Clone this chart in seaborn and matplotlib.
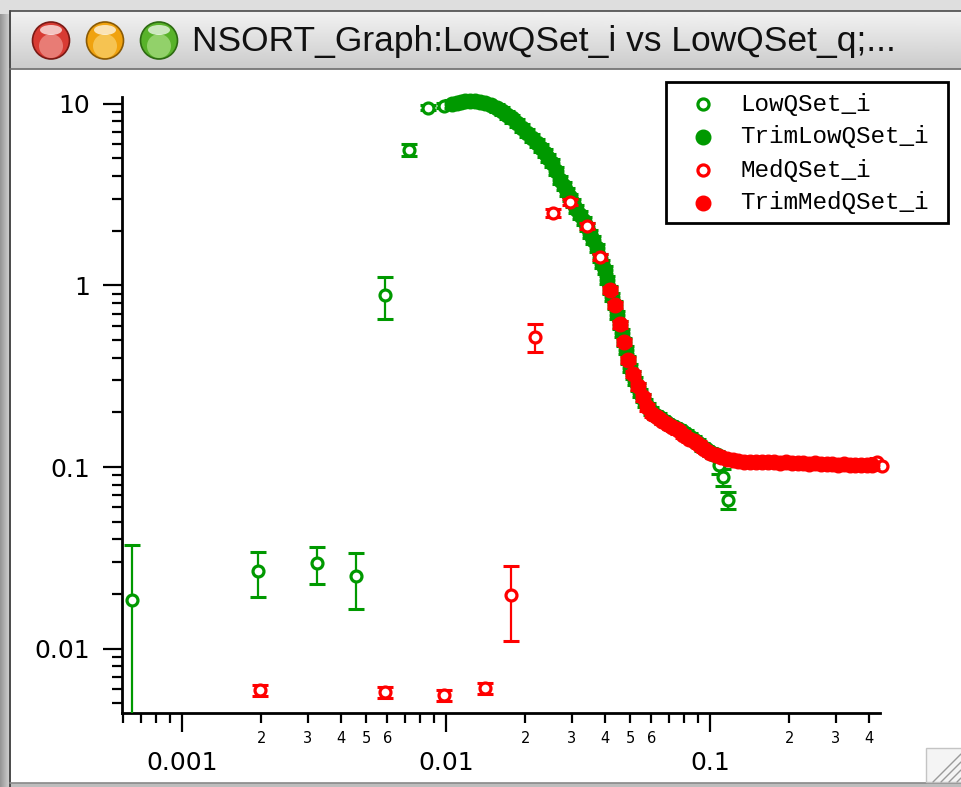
import numpy as np
import pandas as pd
import matplotlib
matplotlib.use("Agg")
import matplotlib.pyplot as plt
import seaborn as sns
from matplotlib.patches import Rectangle, Circle, Ellipse
from matplotlib.ticker import LogLocator, FuncFormatter, NullFormatter

# ---------------- data ----------------
title_text = "NSORT_Graph:LowQSet_i vs LowQSet_q;..."
series_names = ["LowQSet_i", "TrimLowQSet_i", "MedQSet_i", "TrimMedQSet_i"]

low_q = [0.000647, 0.00194, 0.00324, 0.00456, 0.00587, 0.00724, 0.00855, 0.0098,
         0.108, 0.112, 0.117]
low_i = [0.0185, 0.0267, 0.0296, 0.0251, 0.887, 5.58, 9.5, 9.75,
         0.103, 0.088, 0.066]
low_err = [0.0187, 0.0075, 0.0068, 0.0086, 0.23, 0.4, 0.3, 0.3,
           0.012, 0.009, 0.007]

trim_low_q = [0.0105, 0.0110, 0.0114, 0.0118, 0.0123, 0.0129, 0.0135, 0.0141,
              0.0148, 0.0156, 0.0163, 0.0170, 0.0178, 0.0186, 0.0194, 0.0203,
              0.0212, 0.0221, 0.0229, 0.0237, 0.0244, 0.0252, 0.0261, 0.0271,
              0.0279, 0.0287, 0.0295, 0.0303, 0.0312, 0.0322, 0.0332, 0.0342,
              0.0351, 0.0361, 0.0372, 0.0383, 0.0391, 0.0400, 0.0409, 0.0418,
              0.0427, 0.0437, 0.0446, 0.0456, 0.0464, 0.0472, 0.0480, 0.0488,
              0.0499, 0.0511, 0.0522, 0.0533, 0.0545, 0.0557, 0.0569, 0.0582,
              0.0600, 0.0620, 0.0639, 0.0658, 0.0681, 0.0705, 0.0730, 0.0757,
              0.0783, 0.0811, 0.0840, 0.0869, 0.0900, 0.0933, 0.0966, 0.100,
              0.103, 0.106]
trim_low_i = [10.0, 10.1, 10.2, 10.3, 10.3, 10.3, 10.2, 10.1,
              9.8, 9.5, 9.1, 8.7, 8.3, 7.86, 7.4, 6.92,
              6.5, 6.10, 5.7, 5.37, 5.05, 4.73, 4.25, 3.81,
              3.52, 3.27, 3.05, 2.85, 2.64, 2.44, 2.26, 2.10,
              1.93, 1.78, 1.60, 1.42, 1.32, 1.22, 1.07, 0.944,
              0.86, 0.781, 0.69, 0.606, 0.545, 0.489, 0.44, 0.389,
              0.352, 0.321, 0.297, 0.276, 0.257, 0.240, 0.226, 0.214,
              0.203, 0.194, 0.188, 0.182, 0.176, 0.170, 0.166, 0.162,
              0.157, 0.152, 0.146, 0.141, 0.135, 0.129, 0.125, 0.121,
              0.118, 0.116]

med_q = [0.00197, 0.00587, 0.00983, 0.0141, 0.0176, 0.0217, 0.0254, 0.0295,
         0.0342, 0.0383, 0.43, 0.449]
med_i = [0.0059, 0.00575, 0.00555, 0.00605, 0.0197, 0.52, 2.51, 2.88,
         2.13, 1.43, 0.107, 0.101]
med_err = [0.0004, 0.0004, 0.0004, 0.0004, 0.0087, 0.09, 0.12, 0.10,
           0.08, 0.05, 0.005, 0.005]

trim_med_q = [0.0418, 0.0437, 0.0456, 0.0472, 0.0488, 0.0510, 0.0533, 0.0557,
              0.058, 0.0605, 0.063, 0.066, 0.069, 0.072, 0.0755, 0.079,
              0.083, 0.087, 0.091, 0.095, 0.100, 0.105, 0.110, 0.116,
              0.122, 0.128, 0.135, 0.142, 0.150, 0.158, 0.166, 0.175,
              0.184, 0.194, 0.204, 0.215, 0.226, 0.238, 0.250, 0.263,
              0.277, 0.291, 0.306, 0.322, 0.338, 0.355, 0.373, 0.392, 0.410]
trim_med_i = [0.944, 0.78, 0.61, 0.49, 0.39, 0.325, 0.278, 0.242,
              0.213, 0.196, 0.188, 0.180, 0.173, 0.167, 0.159, 0.151,
              0.143, 0.139, 0.133, 0.126, 0.120, 0.116, 0.113, 0.111,
              0.109, 0.108, 0.107, 0.107, 0.106, 0.107, 0.106, 0.106,
              0.105, 0.106, 0.105, 0.105, 0.105, 0.104, 0.105, 0.104,
              0.104, 0.104, 0.103, 0.104, 0.103, 0.103, 0.102, 0.103, 0.102]

x_major_ticks = [0.001, 0.01, 0.1]
x_major_labels = ["0.001", "0.01", "0.1"]
y_major_ticks = [0.01, 0.1, 1, 10]
y_major_labels = ["0.01", "0.1", "1", "10"]
minor_labelled = [2, 3, 4, 5, 6]
minor_label_from = 0.001

GREEN = "#009900"
RED = "#ff0000"

# ---------------- figure ----------------
sns.set_theme(style="white")
plt.rcParams["font.family"] = ["DejaVu Sans"]

W, H = 961, 787
fig = plt.figure(figsize=(W / 100, H / 100), dpi=100)
fig.patch.set_facecolor("white")

# window chrome (pixel coordinates)
bg = fig.add_axes([0, 0, 1, 1], zorder=0)
bg.set_xlim(0, W)
bg.set_ylim(H, 0)
bg.axis("off")

bg.add_patch(Rectangle((0, 0), W, H, color="#dedede", zorder=0))
lg = np.linspace(0.58, 0.80, 32).reshape(1, -1)
bg.imshow(lg, extent=(0, 9, H, 14), cmap="gray", vmin=0, vmax=1, aspect="auto", zorder=1)
tg = np.linspace(0.95, 0.80, 64).reshape(-1, 1)
bg.imshow(tg, extent=(10, W, 68, 11), cmap="gray", vmin=0, vmax=1, aspect="auto", zorder=1)
bg.plot([10, W], [11, 11], color="#4a4a4a", lw=1.2, zorder=3)
bg.plot([9.5, 9.5], [11, H], color="#4a4a4a", lw=1.4, zorder=3)
bg.plot([10, W], [68.5, 68.5], color="#6a6a6a", lw=1.2, zorder=3)
bg.add_patch(Rectangle((10.2, 69.2), W - 10, 713, color="white", zorder=2))
bg.add_patch(Rectangle((10, 782.5), W, 6, color="#bdbdbd", zorder=2))
bg.plot([10, W], [782.5, 782.5], color="#8a8a8a", lw=1.2, zorder=3)
bg.add_patch(Rectangle((926, 748), 40, 34, facecolor="#f4f4f4", edgecolor="#c4c4c4", lw=1, zorder=3))
for k in range(4):
    off = 8 * k
    bg.plot([933 + off, 961], [782, 754 + off], color="#9a9a9a", lw=1.0, zorder=4)
for cx, base, dark, light in [(51, "#d83b33", "#7a1a15", "#f6b3ad"),
                              (105, "#f0a20e", "#8a5a05", "#fbe08a"),
                              (159, "#58b22a", "#2d6a12", "#c2ec9f")]:
    bg.add_patch(Circle((cx, 40.5), 18.5, facecolor=base, edgecolor=dark, lw=1.2, zorder=4))
    bg.add_patch(Circle((cx, 46), 12, facecolor=light, edgecolor="none", alpha=0.55, zorder=5))
    bg.add_patch(Ellipse((cx, 30), 22, 10, facecolor="white", edgecolor="none", alpha=0.7, zorder=6))
title = bg.text(192, 42, title_text, ha="left", va="center", fontsize=24,
                family=["Liberation Sans", "DejaVu Sans"], color="#111111", zorder=6)

# ---------------- main axes ----------------
L, R, T, B = 122, 880, 97, 713
ax = fig.add_axes([L / W, 1 - B / H, (R - L) / W, (B - T) / H], zorder=1)
ax.set_facecolor("none")
ax.set_xscale("log")
ax.set_yscale("log")

df_low = pd.DataFrame({"q": low_q, "I": low_i, "err": low_err})
df_tlow = pd.DataFrame({"q": trim_low_q, "I": trim_low_i})
df_tlow["err"] = df_tlow["I"] * 0.05
df_med = pd.DataFrame({"q": med_q, "I": med_i, "err": med_err})
df_tmed = pd.DataFrame({"q": trim_med_q, "I": trim_med_i})
df_tmed["err"] = df_tmed["I"] * 0.04

eb_kw = dict(fmt="none", elinewidth=1.6, capsize=5.5, capthick=2.2)

def draw(df, color, filled, z):
    ax.errorbar(df["q"], df["I"], yerr=df["err"], ecolor=color, zorder=z, **eb_kw)
    sns.scatterplot(data=df, x="q", y="I", ax=ax, marker="o",
                    s=110 if filled else 62,
                    facecolor=color if filled else "white",
                    edgecolor=color, linewidth=2.3 if not filled else 1.0,
                    zorder=z + 0.5, legend=False, clip_on=False)

draw(df_low, GREEN, False, 3)
draw(df_tlow, GREEN, True, 4)
draw(df_med, RED, False, 5)
draw(df_tmed, RED, True, 6)

ax.set_xlim(0.000593, 0.4406)
ax.set_ylim(0.00442, 10.9)
ax.set_xlabel("")
ax.set_ylabel("")

for s in ["top", "right"]:
    ax.spines[s].set_visible(False)
for s in ["left", "bottom"]:
    ax.spines[s].set_color("black")
    ax.spines[s].set_linewidth(2)

ax.xaxis.set_major_locator(LogLocator(base=10, subs=(1.0,)))
ax.xaxis.set_minor_locator(LogLocator(base=10, subs=(2, 3, 4, 5, 6, 7, 8, 9)))
ax.yaxis.set_major_locator(LogLocator(base=10, subs=(1.0,)))
ax.yaxis.set_minor_locator(LogLocator(base=10, subs=(2, 3, 4, 5, 6, 7, 8, 9)))

xmap = dict(zip(x_major_ticks, x_major_labels))
ymap = dict(zip(y_major_ticks, y_major_labels))

def fmt_major(mapping):
    def f(v, pos):
        for k, lab in mapping.items():
            if abs(np.log10(v) - np.log10(k)) < 1e-6:
                return lab
        return ""
    return FuncFormatter(f)

def fmt_minor(v, pos):
    if v < minor_label_from:
        return ""
    m = v / 10 ** np.floor(np.log10(v) + 1e-9)
    mi = int(round(m))
    return str(mi) if mi in minor_labelled and abs(m - mi) < 1e-6 else ""

ax.xaxis.set_major_formatter(fmt_major(xmap))
ax.xaxis.set_minor_formatter(FuncFormatter(fmt_minor))
ax.yaxis.set_major_formatter(fmt_major(ymap))
ax.yaxis.set_minor_formatter(NullFormatter())

ax.tick_params(axis="both", which="major", direction="out", length=14, width=1.6,
               colors="black", bottom=True, left=True)
ax.tick_params(axis="both", which="minor", direction="out", length=7, width=1.6,
               colors="black", bottom=True, left=True)
ax.tick_params(axis="x", which="major", labelsize=18, pad=13)
ax.tick_params(axis="x", which="minor", labelsize=10.5, pad=6)
ax.tick_params(axis="y", which="major", labelsize=18, pad=9)

# ---------------- legend (overlay, pixel coordinates) ----------------
ov = fig.add_axes([0, 0, 1, 1], zorder=3)
ov.set_xlim(0, W)
ov.set_ylim(H, 0)
ov.axis("off")
ov.set_facecolor("none")
ov.add_patch(Rectangle((666, 82), 282, 141, facecolor="white", edgecolor="black", lw=2, zorder=1))
leg_rows = [104, 137, 170, 203]
leg_style = [(GREEN, False), (GREEN, True), (RED, False), (RED, True)]
for yy, name, (c, filled) in zip(leg_rows, series_names, leg_style):
    ov.plot([703], [yy], marker="o", markersize=10.5 if filled else 8,
            markerfacecolor=c if filled else "white", markeredgecolor=c,
            markeredgewidth=2.3 if not filled else 1.0, linestyle="none", zorder=2)
    ov.text(740, yy, name, ha="left", va="center", fontsize=17.5,
            family=["Liberation Mono", "DejaVu Sans Mono"], color="black", zorder=2)

fig.canvas.draw()
bb = title.get_window_extent()
title.set_fontsize(24 * 703 / bb.width)

fig.savefig("out.png", dpi=100, facecolor=fig.get_facecolor())
